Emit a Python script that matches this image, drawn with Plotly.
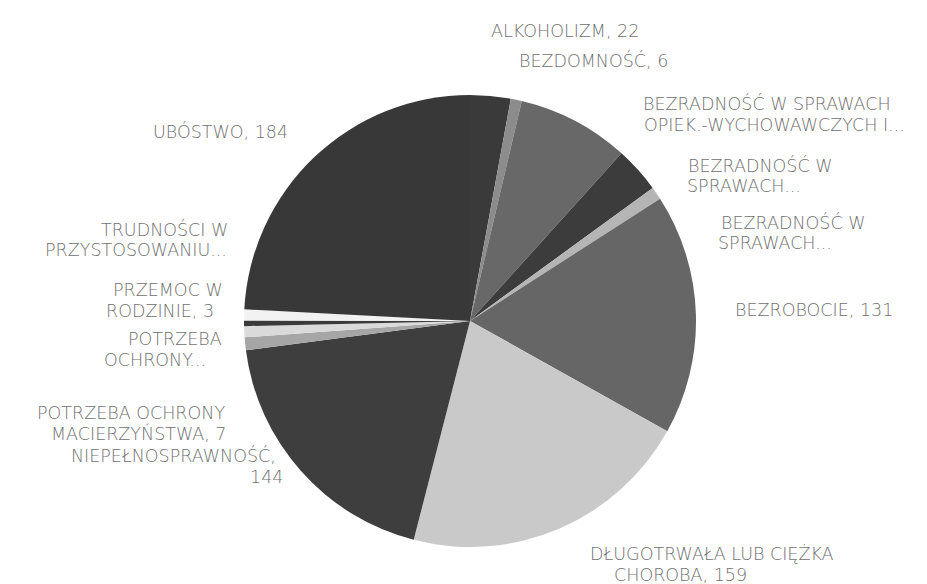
import plotly.graph_objects as go

# ---- data ----
categories = [
    "ALKOHOLIZM",
    "BEZDOMNOŚĆ",
    "BEZRADNOŚĆ W SPRAWACH OPIEK.-WYCHOWAWCZYCH I PROWADZENIA GOSPODARSTWA DOMOWEGO",
    "BEZRADNOŚĆ W SPRAWACH OPIEK.-WYCHOWAWCZYCH - RODZINY NIEPEŁNE",
    "BEZRADNOŚĆ W SPRAWACH OPIEK.-WYCHOWAWCZYCH - RODZINY WIELODZIETNE",
    "BEZROBOCIE",
    "DŁUGOTRWAŁA LUB CIĘŻKA CHOROBA",
    "NIEPEŁNOSPRAWNOŚĆ",
    "POTRZEBA OCHRONY MACIERZYŃSTWA",
    "POTRZEBA OCHRONY OFIAR HANDLU LUDŹMI",
    "PRZEMOC W RODZINIE",
    "TRUDNOŚCI W PRZYSTOSOWANIU DO ŻYCIA PO OPUSZCZENIU ZAKŁADU KARNEGO",
    "UBÓSTWO",
]
values = [22, 6, 61, 25, 7, 131, 159, 144, 7, 6, 3, 6, 184]

# label text as displayed (lines)
label_lines = [
    ["ALKOHOLIZM, 22"],
    ["BEZDOMNOŚĆ, 6"],
    ["BEZRADNOŚĆ W SPRAWACH", "OPIEK.-WYCHOWAWCZYCH I..."],
    ["BEZRADNOŚĆ W", "SPRAWACH..."],
    ["BEZRADNOŚĆ W", "SPRAWACH..."],
    ["BEZROBOCIE, 131"],
    ["DŁUGOTRWAŁA LUB CIĘŻKA", "CHOROBA, 159"],
    ["NIEPEŁNOSPRAWNOŚĆ,", "144"],
    ["POTRZEBA OCHRONY", "MACIERZYŃSTWA, 7"],
    ["POTRZEBA", "OCHRONY..."],
    ["PRZEMOC W", "RODZINIE, 3"],
    ["TRUDNOŚCI W", "PRZYSTOSOWANIU..."],
    ["UBÓSTWO, 184"],
]

# ---- styling / layout ----
slice_colors = ["#3a3a3a", "#8c8c8c", "#686868", "#3c3c3c", "#b5b5b5", "#666666",
                "#c9c9c9", "#3e3e3e", "#a6a6a6", "#dadada", "#3a3a3a", "#f2f2f2", "#383838"]

# label block centre y (px from top) and centre x of each line (px)
label_y = [23, 53, 106, 167.5, 225, 302, 556, 458, 415, 341.5, 292.5, 231.5, 123]
label_x = [
    [557], [585], [759, 766], [752, 736], [785, 767], [806],
    [704, 672], [165, 258], [123, 131], [167, 147], [160, 152], [156, 128], [212],
]
LINE_STEP = 21
FONT_SIZE = 17.5

W, H = 927, 584
cx, cy, r = 462, 313, 226

fig = go.Figure(go.Pie(
    labels=categories,
    values=values,
    sort=False,
    direction="clockwise",
    rotation=0,
    textinfo="none",
    hoverinfo="label+value",
    marker=dict(colors=slice_colors, line=dict(width=0)),
    showlegend=False,
    domain=dict(x=[(cx - r) / W, (cx + r) / W], y=[(H - cy - r) / H, (H - cy + r) / H]),
))

annotations = []
for lines, ycen, xs in zip(label_lines, label_y, label_x):
    n = len(lines)
    for i, (txt, px) in enumerate(zip(lines, xs)):
        py = ycen + (i - (n - 1) / 2) * LINE_STEP
        annotations.append(dict(
            text=txt, x=px / W, y=(H - py) / H, xref="paper", yref="paper",
            xanchor="center", yanchor="middle", showarrow=False,
            font=dict(family="DejaVu Sans", size=FONT_SIZE, color="#707070", weight=300),
        ))

fig.update_layout(
    width=W, height=H,
    margin=dict(l=0, r=0, t=0, b=0),
    paper_bgcolor="white",
    plot_bgcolor="white",
    annotations=annotations,
)

fig.write_html("out.html")
